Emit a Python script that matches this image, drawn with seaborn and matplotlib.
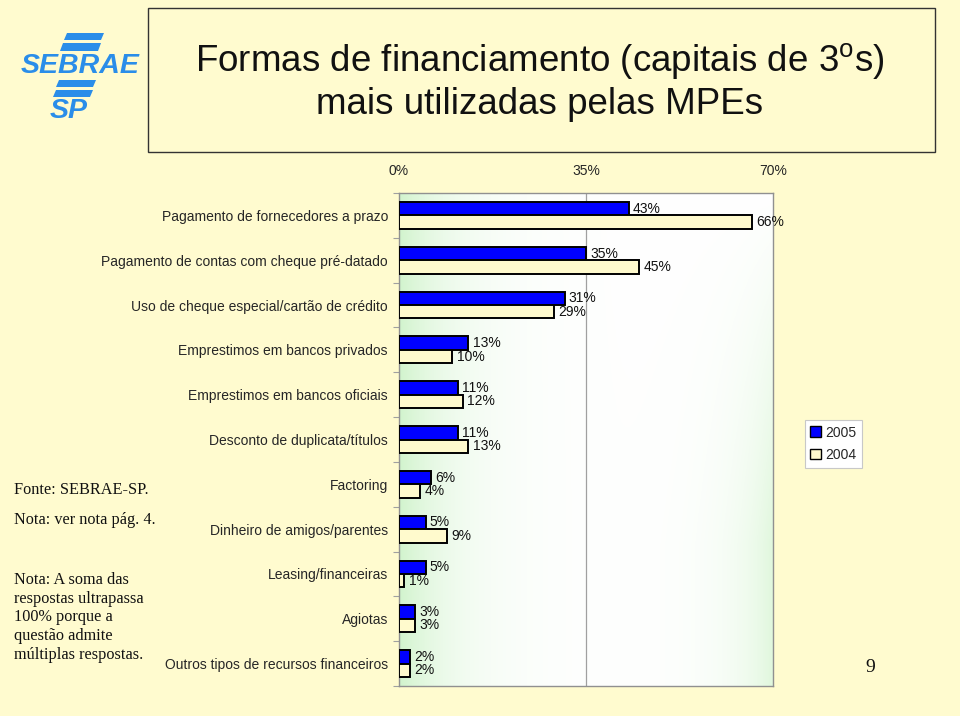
import numpy as np
import pandas as pd
import matplotlib
matplotlib.use("Agg")
import matplotlib.pyplot as plt
from matplotlib.patches import Rectangle, Polygon, Patch
import seaborn as sns

categories = [
    "Pagamento de fornecedores a prazo",
    "Pagamento de contas com cheque pré-datado",
    "Uso de cheque especial/cartão de crédito",
    "Emprestimos em bancos privados",
    "Emprestimos em bancos oficiais",
    "Desconto de duplicata/títulos",
    "Factoring",
    "Dinheiro de amigos/parentes",
    "Leasing/financeiras",
    "Agiotas",
    "Outros tipos de recursos financeiros",
]
values_2005 = [43, 35, 31, 13, 11, 11, 6, 5, 5, 3, 2]
values_2004 = [66, 45, 29, 10, 12, 13, 4, 9, 1, 3, 2]
years = ["2005", "2004"]
x_ticks = [0, 35, 70]
x_tick_labels = ["0%", "35%", "70%"]

BG = "#FFFBCF"
BLUE = "#0000FF"
LIGHT = "#FFFACD"

sns.set_theme(style="white")
plt.rcParams["font.family"] = ["Liberation Sans", "DejaVu Sans"]
plt.rcParams["mathtext.fontset"] = "custom"
plt.rcParams["mathtext.rm"] = "Liberation Sans"

df = pd.DataFrame({
    "cat": categories * 2,
    "year": ["2005"] * len(categories) + ["2004"] * len(categories),
    "value": values_2005 + values_2004,
})

fig = plt.figure(figsize=(9.6, 7.16), dpi=100, facecolor=BG)
ax = fig.add_axes([399 / 960, 1 - 686 / 716, (773 - 399) / 960, (686 - 193) / 716])

sns.barplot(data=df, y="cat", x="value", hue="year", hue_order=years,
            order=categories, orient="h", saturation=1,
            palette={"2005": BLUE, "2004": LIGHT}, edgecolor="black",
            linewidth=1.4, width=0.6, ax=ax, legend=False, zorder=3)

# gradient background of plot area
nx, ny = 300, 200
xx, yy = np.meshgrid(np.linspace(0, 1, nx), np.linspace(0, 1, ny))
g = 0.9 * np.exp(-xx / 0.14) + 0.6 * np.exp(-(1 - xx) / 0.10) * np.clip(yy * 1.4, 0, 1)
g = np.clip(g, 0, 1)
green = np.array([0.80, 0.95, 0.78])
img = (1 - g[..., None]) * np.array([1, 1, 1]) + g[..., None] * green
n = len(categories)
ax.imshow(img, extent=(0, 70, n - 0.5, -0.5), aspect="auto", zorder=0)
ax.set_xlim(0, 70)
ax.set_ylim(n - 0.5, -0.5)

ax.axvline(35, color="#a0a0a0", lw=0.9, zorder=1)

for cont, vals in zip(ax.containers, [values_2005, values_2004]):
    ax.bar_label(cont, labels=[f"{v}%" for v in vals], padding=3, fontsize=10, color="#111111")

ax.xaxis.tick_top()
ax.set_xticks(x_ticks)
ax.set_xticklabels(x_tick_labels, fontsize=10)
ax.tick_params(axis="x", length=0, pad=11)
ax.set_yticks(range(n))
ax.set_yticklabels(categories, fontsize=10)
ax.set_yticks(np.arange(-0.5, n, 1), minor=True)
ax.tick_params(axis="y", which="major", length=0, pad=8)
ax.tick_params(axis="y", which="minor", length=4, color="#a0a0a0", width=0.8, left=True)
ax.set_xlabel("")
ax.set_ylabel("")
for s in ax.spines.values():
    s.set_visible(True)
    s.set_color("#909090")
    s.set_linewidth(1.0)

handles = [Patch(facecolor=BLUE, edgecolor="black", lw=1.0),
           Patch(facecolor=LIGHT, edgecolor="black", lw=1.0)]
leg = fig.legend(handles, years, loc="upper left", bbox_to_anchor=(0.831, 0.423),
                 frameon=True, fancybox=False, edgecolor="#c8c8c8", facecolor="white",
                 fontsize=10, handlelength=0.8, handleheight=0.8, borderpad=0.4,
                 labelspacing=0.6, handletextpad=0.3, framealpha=1)
leg.get_frame().set_linewidth(0.8)

# title box
fig.patches.append(Rectangle((148 / 960, 1 - 152 / 716), (935 - 148) / 960, (152 - 8) / 716,
                             transform=fig.transFigure, facecolor=BG, edgecolor="#333333",
                             lw=1.0, zorder=0))
fig.text(540 / 960, 1 - 62 / 716, r"Formas de financiamento (capitais de 3$^{\mathrm{o}}$s)",
         ha="center", va="center", fontsize=26.5, color="#111111")
fig.text(540 / 960, 1 - 104 / 716, "mais utilizadas pelas MPEs",
         ha="center", va="center", fontsize=26.5, color="#111111")

# logo
LOGO = "#2a8de9"
def stripe(x0, x1, y0, y1, skew=4):
    pts = [(x0 + skew, y0), (x1 + skew, y0), (x1, y1), (x0, y1)]
    fig.patches.append(Polygon([(px / 960, 1 - py / 716) for px, py in pts],
                               closed=True, transform=fig.transFigure,
                               facecolor=LOGO, edgecolor="none"))
stripe(64, 101, 33, 40, 3)
stripe(60, 98, 43, 51, 3)
stripe(56, 93, 80, 87, 3)
stripe(53, 90, 90, 97, 3)
fig.text(80 / 960, 1 - 66 / 716, "SEBRAE", ha="center", va="center", fontsize=20.5,
         fontweight="bold", fontstyle="italic", color=LOGO, family="Liberation Sans")
fig.text(69 / 960, 1 - 111 / 716, "SP", ha="center", va="center", fontsize=20.5,
         fontweight="bold", fontstyle="italic", color=LOGO, family="Liberation Sans")

serif = ["Liberation Serif", "DejaVu Serif"]
fig.text(14 / 960, 1 - 490 / 716, "Fonte: SEBRAE-SP.", ha="left", va="center",
         fontsize=11.7, family=serif, color="#111111")
fig.text(14 / 960, 1 - 520 / 716, "Nota: ver nota pág. 4.", ha="left", va="center",
         fontsize=11.7, family=serif, color="#111111")
fig.text(14 / 960, 1 - 572 / 716,
         "Nota: A soma das\nrespostas ultrapassa\n100% porque a\nquestão admite\nmúltiplas respostas.",
         ha="left", va="top", fontsize=11.7, family=serif, color="#111111", linespacing=1.22)
fig.text(870 / 960, 1 - 668 / 716, "9", ha="center", va="center", fontsize=14,
         family=serif, color="#111111")

fig.savefig("out.png", dpi=100, facecolor=BG)
